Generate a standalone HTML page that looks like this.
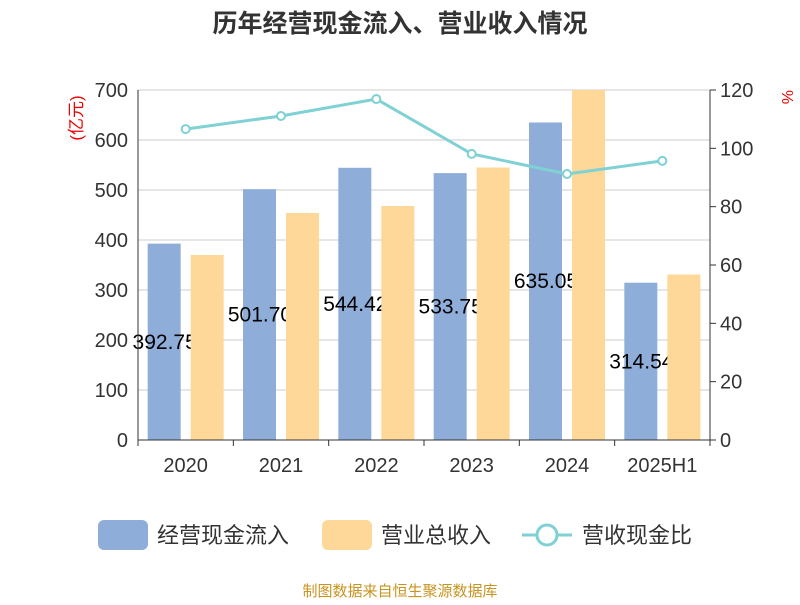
<!DOCTYPE html>
<html><head><meta charset="utf-8"><style>
body{margin:0;background:#fff;}
svg text{font-family:"Liberation Sans","Noto Sans CJK SC",sans-serif;}
</style></head><body>
<svg id="chart" width="800" height="600" xmlns="http://www.w3.org/2000/svg">
<text x="400" y="32" text-anchor="middle" font-size="25" font-weight="bold" fill="#333">历年经营现金流入、营业收入情况</text>
<text x="82" y="118" font-size="17" fill="#e00" transform="rotate(-90 82 118)" text-anchor="middle">(亿元)</text>
<text x="782" y="90" font-size="16" fill="#e00" transform="rotate(90 782 90)">%</text>
<g id="grid"></g><g id="bars"></g><g id="line"></g><g id="axes"></g>
<g>
<g><rect x="98" y="520" width="50" height="30" rx="6" fill="#8eadd9"/><text x="157" y="543" font-size="22" fill="#333">经营现金流入</text></g>
<g><rect x="322" y="520" width="50" height="30" rx="6" fill="#fdd898"/><text x="381" y="543" font-size="22" fill="#333">营业总收入</text></g>
<g><line x1="522" y1="535" x2="572" y2="535" stroke="#7fd1d3" stroke-width="3"/><circle cx="547" cy="535" r="10" fill="#fff" stroke="#7fd1d3" stroke-width="3"/><text x="582" y="543" font-size="22" fill="#333">营收现金比</text></g>
</g>
<text x="400" y="596" text-anchor="middle" font-size="15" fill="#c8941e">制图数据来自恒生聚源数据库</text>
</svg>
<script>
const categories=["2020","2021","2022","2023","2024","2025H1"];
const cashInflow=[392.75,501.70,544.42,533.75,635.05,314.54];
const revenue=[370,454,468,545,720,331];
const ratio=[106.6,111.1,116.9,98.1,91.2,95.7];
const leftTicks=[0,100,200,300,400,500,600,700];
const rightTicks=[0,20,40,60,80,100,120];
const NS="http://www.w3.org/2000/svg";
const X0=138,X1=710,Y0=440,Y1=90;
const bw=(X1-X0)/categories.length;
const yL=v=>Y0-Math.min(v,700)/700*(Y0-Y1);
const yR=v=>Y0-v/120*(Y0-Y1);
const cx=i=>X0+bw*(i+0.5);
function mk(tag,attrs,parent,txt){const e=document.createElementNS(NS,tag);for(const k in attrs)e.setAttribute(k,attrs[k]);if(txt!==undefined)e.textContent=txt;document.getElementById(parent).appendChild(e);return e;}
leftTicks.forEach(t=>{
 const g=mk("line",{x1:X0,x2:X1,y1:yL(t),y2:yL(t),stroke:"#ccc","stroke-width":1},"grid");
 
 
 const l=mk("text",{x:X0-10,y:yL(t)+7,"text-anchor":"end","font-size":20,fill:"#333"},"axes",t);
 
 
});
rightTicks.forEach(t=>{
 const l=mk("text",{x:X1+10,y:yR(t)+7,"font-size":20,fill:"#333"},"axes",t);
 
 
 mk("line",{x1:X1,x2:X1+6,y1:yR(t),y2:yR(t),stroke:"#333"},"axes");
});
mk("line",{x1:X0,x2:X0,y1:Y1,y2:Y0,stroke:"#333"},"axes");
mk("line",{x1:X1,x2:X1,y1:Y1,y2:Y0,stroke:"#333"},"axes");
mk("line",{x1:X0,x2:X1,y1:Y0,y2:Y0,stroke:"#333"},"axes");
categories.forEach((c,i)=>{
 mk("line",{x1:X0+bw*i,x2:X0+bw*i,y1:Y0,y2:Y0+6,stroke:"#333"},"axes");
 const l=mk("text",{x:cx(i),y:Y0+32,"text-anchor":"middle","font-size":20,fill:"#333"},"axes",c);
 
 
});
mk("line",{x1:X1,x2:X1,y1:Y0,y2:Y0+6,stroke:"#333"},"axes");
categories.forEach((c,i)=>{
 const b=mk("rect",{x:cx(i)-38,y:yL(cashInflow[i]),width:33,height:Y0-yL(cashInflow[i]),fill:"#8eadd9"},"bars");
 
 
});
categories.forEach((c,i)=>{
 const t=mk("text",{x:cx(i)-21,y:(yL(cashInflow[i])+Y0)/2+7,"text-anchor":"middle","font-size":21,fill:"#000"},"bars",cashInflow[i].toFixed(2));
 
 
});
categories.forEach((c,i)=>{
 const b=mk("rect",{x:cx(i)+5,y:yL(revenue[i]),width:33,height:Y0-yL(revenue[i]),fill:"#fdd898"},"bars");
 
 
});
const pl=mk("polyline",{points:ratio.map((v,i)=>cx(i)+","+yR(v)).join(" "),fill:"none",stroke:"#7fd1d3","stroke-width":3},"line");


ratio.forEach((v,i)=>{
 const p=mk("circle",{cx:cx(i),cy:yR(v),r:4,fill:"#fff",stroke:"#7fd1d3","stroke-width":2},"line");
 
 
});
</script>
</body></html>
